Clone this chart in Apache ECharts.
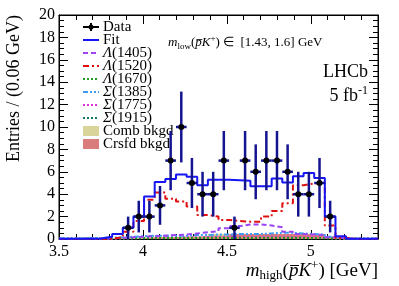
<!DOCTYPE html>
<html><head><meta charset="utf-8">
<script src="https://cdn.jsdelivr.net/npm/echarts@6/dist/echarts.min.js"></script>
<style>html,body{margin:0;padding:0;background:#fff}#c{width:399px;height:286px}</style>
</head><body><div id="c"></div>
<script>
// ---- binning ----
const X_MIN = 3.5, X_MAX = 5.4, N_BINS = 30;
const xTicks = [3.5, 4, 4.5, 5];
const yTicks = [0, 2, 4, 6, 8, 10, 12, 14, 16, 18, 20];
// ---- data (bins 6..25) ----
const dataFirstBin = 6;
const dataCounts = [1, 2, 2, 3, 7, 10, 5, 4, 4, 7, 1, 7, 6, 7, 7, 6, 4, 4, 5, 2];
// ---- model components, per bin (30 bins) ----
const fitVals   = [0.03,0.03,0.03,0.05,0.2,0.45,1.0,2.0,3.8,5.1,5.35,5.75,5.55,4.8,5.3,5.3,5.25,5.2,4.7,4.7,5.4,5.05,5.6,5.9,5.45,2.0,0.25,0.02,0.02,0.02];
const L1520     = [0,0,0,0,0.05,0.15,0.65,1.6,3.5,4.15,3.6,3.35,2.9,2.15,2.0,1.7,1.6,1.55,1.55,2.0,2.5,3.2,4.8,4.95,5.05,1.2,0.1,0,0,0];
const L1405     = [0.02,0.02,0.03,0.03,0.05,0.1,0.15,0.2,0.25,0.3,0.35,0.4,0.5,0.6,0.7,0.95,1.15,1.3,1.3,1.2,1.05,0.65,0.45,0.4,0.35,0.15,0.05,0.02,0.02,0.02];
const L1670     = [0.03,0.03,0.04,0.05,0.06,0.07,0.08,0.1,0.1,0.1,0.1,0.1,0.1,0.12,0.12,0.12,0.12,0.12,0.12,0.12,0.12,0.12,0.1,0.1,0.1,0.05,0.03,0.02,0.02,0.02];
const S1385     = [0.05,0.05,0.08,0.1,0.12,0.15,0.2,0.25,0.3,0.3,0.3,0.3,0.35,0.35,0.4,0.4,0.45,0.45,0.45,0.5,0.55,0.55,0.5,0.45,0.4,0.2,0.05,0.02,0.02,0.02];
const S1775     = [0.02,0.02,0.03,0.04,0.05,0.06,0.08,0.1,0.12,0.12,0.14,0.15,0.16,0.18,0.2,0.2,0.2,0.2,0.2,0.2,0.2,0.18,0.16,0.15,0.12,0.06,0.03,0.02,0.02,0.02];
const S1915     = [0.02,0.02,0.03,0.03,0.04,0.05,0.05,0.06,0.06,0.07,0.07,0.07,0.08,0.08,0.08,0.08,0.08,0.08,0.08,0.08,0.08,0.08,0.07,0.07,0.06,0.04,0.02,0.02,0.02,0.02];
const combBkg   = [0.1,0.1,0.1,0.1,0.1,0.1,0.15,0.15,0.15,0.15,0.15,0.25,0.25,0.25,0.45,0.45,0.45,0.45,0.4,0.4,0.3,0.3,0.3,0.3,0.3,0.1,0.1,0.1,0.1,0.1];
const crsfdBkg  = [0.05,0.05,0.05,0.05,0.05,0.05,0.05,0.05,0.15,0.15,0.15,0.15,0.15,0.25,0.25,0.25,0.45,0.45,0.45,0.45,0.45,0.45,0.45,0.45,0.45,0.2,0.05,0.05,0.05,0.05];

const W = (X_MAX - X_MIN) / N_BINS;
function stepPts(vals) {
  const pts = [];
  vals.forEach((v, i) => { pts.push([X_MIN + i * W, v]); pts.push([X_MIN + (i + 1) * W, v]); });
  return pts;
}
const SERIF = 'Liberation Serif';
function stepLine(name, vals, color, type, width, z) {
  return { name, type: 'line', data: stepPts(vals), symbol: 'none', silent: true, z: z,
    lineStyle: { color, type, width }, animation: false };
}
function stepFill(name, vals, color, z) {
  return { name, type: 'line', data: stepPts(vals), symbol: 'none', silent: true, z: z,
    lineStyle: { width: 0 }, areaStyle: { color, opacity: 1 }, animation: false };
}
const C = {
  fit: '#1515f5', l1405: '#9b44f5', l1520: '#e01010', l1670: '#1f9f1f',
  s1385: '#3d9cf0', s1775: '#e030e0', s1915: '#107a70', comb: '#d8d49a', crsfd: '#da7c7c', err: '#141490'
};
const D_DASH = [5, 3], D_DASHDOT = [6, 3, 2, 3], D_DOT = [2, 2], D_DDD = [5, 2, 2, 2, 2, 2];

const chart = echarts.init(document.getElementById('c'), null, { renderer: 'canvas' });

const SUBR = 0.68;
function rich(fs) {
  const s = Math.round(fs * SUBR);
  return {
    n: { fontFamily: SERIF, fontSize: fs, lineHeight: fs + 4, verticalAlign: 'middle', color: '#000' },
    i: { fontFamily: SERIF, fontSize: fs, fontStyle: 'italic', lineHeight: fs + 4, verticalAlign: 'middle', color: '#000' },
    sub: { fontFamily: SERIF, fontSize: s, lineHeight: s, verticalAlign: 'bottom', color: '#000' },
    sup: { fontFamily: SERIF, fontSize: s, lineHeight: s, verticalAlign: 'top', color: '#000' }
  };
}
// text measuring for the p-bar overline
const mctx = document.createElement('canvas').getContext('2d');
function tw(txt, fs, italic) { mctx.font = (italic ? 'italic ' : '') + fs + 'px "' + SERIF + '"'; return mctx.measureText(txt).width; }
// segments: [text, kind]; returns graphic items (text + overline over token flagged 'bar')
function mathLabel(segs, fs, x, y, align) {
  const s = Math.round(fs * SUBR);
  let str = '', total = 0, barX0 = 0, barX1 = 0;
  segs.forEach(([t, k, bar]) => {
    const w = (k === 'sub' || k === 'sup') ? tw(t, s, false) : tw(t, fs, k === 'i');
    if (bar) { barX0 = total; barX1 = total + w; }
    total += w;
    str += '{' + k + '|' + t + '}';
  });
  const left = align === 'right' ? x - total : x;
  const out = [{ type: 'text', x: x, y: y, style: { text: str, rich: rich(fs), verticalAlign: 'middle', align: align } }];
  if (barX1 > barX0) {
    const yy = Math.round(y - 0.32 * fs) + 0.5;
    out.push({ type: 'line', shape: { x1: left + barX0 + 1.2, y1: yy, x2: left + barX1 + 0.6, y2: yy }, style: { stroke: '#000', lineWidth: Math.max(0.8, fs / 18) } });
  }
  return out;
}

const legendItems = [
  { kind: 'data', t: '{n|Data}' },
  { kind: 'line', t: '{n|Fit}', c: C.fit, d: 'solid', w: 2 },
  { kind: 'line', t: '{i|Λ}{n|(1405)}', c: C.l1405, d: D_DASH, w: 2 },
  { kind: 'line', t: '{i|Λ}{n|(1520)}', c: C.l1520, d: D_DASHDOT, w: 2 },
  { kind: 'line', t: '{i|Λ}{n|(1670)}', c: C.l1670, d: D_DOT, w: 2 },
  { kind: 'line', t: '{i|Σ}{n|(1385)}', c: C.s1385, d: D_DDD, w: 2 },
  { kind: 'line', t: '{i|Σ}{n|(1775)}', c: C.s1775, d: D_DOT, w: 2 },
  { kind: 'line', t: '{i|Σ}{n|(1915)}', c: C.s1915, d: D_DOT, w: 2 },
  { kind: 'box', t: '{n|Comb bkgd}', c: C.comb },
  { kind: 'box', t: '{n|Crsfd bkgd}', c: C.crsfd }
];
const graphics = [];
legendItems.forEach((it, k) => {
  const y = 27 + k * 13;
  if (it.kind === 'data') {
    graphics.push({ type: 'line', shape: { x1: 83, y1: y, x2: 99, y2: y }, style: { stroke: '#000', lineWidth: 2 } });
    graphics.push({ type: 'line', shape: { x1: 91, y1: y - 4, x2: 91, y2: y + 4 }, style: { stroke: '#000', lineWidth: 2 } });
    graphics.push({ type: 'circle', shape: { cx: 91, cy: y, r: 2.5 }, style: { fill: '#000' } });
  } else if (it.kind === 'line') {
    graphics.push({ type: 'line', shape: { x1: 83, y1: y, x2: 99, y2: y }, style: { stroke: it.c, lineWidth: it.w, lineDash: it.d === 'solid' ? null : it.d } });
  } else {
    graphics.push({ type: 'rect', shape: { x: 83, y: y - 5, width: 16, height: 10 }, style: { fill: it.c } });
  }
  graphics.push({ type: 'text', x: 103, y: y, style: { text: it.t, rich: rich(15), verticalAlign: 'middle', align: 'left' } });
});
// annotation
mathLabel([['m', 'i'], ['low', 'sub'], ['(', 'n'], ['p', 'i', true], ['K', 'i'], ['+', 'sup'], [') ∈  [1.43, 1.6] GeV', 'n']], 13, 168, 43, 'left').forEach(g => graphics.push(g));
graphics.push({ type: 'text', x: 368, y: 72, style: { text: '{n|LHCb}', rich: rich(18), verticalAlign: 'middle', align: 'right' } });
graphics.push({ type: 'text', x: 368, y: 96, style: { text: '{n|5 fb}{sup|-1}', rich: rich(18), verticalAlign: 'middle', align: 'right' } });
// axis titles
mathLabel([['m', 'i'], ['high', 'sub'], ['(', 'n'], ['p', 'i', true], ['K', 'i'], ['+', 'sup'], [') [GeV]', 'n']], 19, 378, 271, 'right').forEach(g => graphics.push(g));
graphics.push({ type: 'text', x: 14, y: 15, rotation: Math.PI / 2, style: {
  text: 'Entries / (0.06 GeV)', font: '18px "Liberation Serif"', fill: '#000', align: 'right', verticalAlign: 'middle' } });

function xAxisCfg(pos) {
  return { type: 'value', min: X_MIN, max: X_MAX, interval: 0.5, position: pos,
    axisLine: { show: true, onZero: false, lineStyle: { color: '#000', width: 1 } },
    axisTick: { show: true, inside: true, length: 9, lineStyle: { color: '#000' } },
    minorTick: { show: true, splitNumber: 5, length: 5, lineStyle: { color: '#000' } },
    splitLine: { show: false },
    axisLabel: { show: pos === 'bottom', showMaxLabel: false, fontFamily: SERIF, fontSize: 16, color: '#000', margin: 5,
      formatter: v => (xTicks.indexOf(+v.toFixed(2)) >= 0 ? String(+v.toFixed(2)) : '') } };
}
function yAxisCfg(pos) {
  return { type: 'value', min: 0, max: 20, interval: 2, position: pos,
    axisLine: { show: true, onZero: false, lineStyle: { color: '#000', width: 1 } },
    axisTick: { show: true, inside: true, length: 9, lineStyle: { color: '#000' } },
    minorTick: { show: true, splitNumber: 4, length: 5, lineStyle: { color: '#000' } },
    splitLine: { show: false },
    axisLabel: { show: pos === 'left', fontFamily: SERIF, fontSize: 16, color: '#000', margin: 4,
      formatter: v => (yTicks.indexOf(v) >= 0 ? String(v) : '') } };
}

const dataPts = dataCounts.map((n, k) => [X_MIN + (dataFirstBin + k + 0.5) * W, n]);

const option = {
  animation: false,
  grid: { left: 59, right: 21, top: 15, bottom: 47, show: true, borderColor: '#000', borderWidth: 1, backgroundColor: 'transparent' },
  xAxis: [xAxisCfg('bottom'), xAxisCfg('top')],
  yAxis: [yAxisCfg('left'), yAxisCfg('right')],
  series: [
    stepFill('Comb bkgd', combBkg, C.comb, 1),
    stepFill('Crsfd bkgd', crsfdBkg, C.crsfd, 2),
    stepLine('Σ(1915)', S1915, C.s1915, D_DOT, 2, 3),
    stepLine('Σ(1775)', S1775, C.s1775, D_DOT, 2, 3),
    stepLine('Λ(1670)', L1670, C.l1670, D_DOT, 2, 3),
    stepLine('Σ(1385)', S1385, C.s1385, D_DDD, 2, 4),
    stepLine('Λ(1405)', L1405, C.l1405, D_DASH, 2, 5),
    stepLine('Λ(1520)', L1520, C.l1520, D_DASHDOT, 2, 6),
    stepLine('Fit', fitVals, C.fit, 'solid', 2, 7),
    { name: 'Data', type: 'custom', z: 10, data: dataPts, animation: false,
      renderItem: function (params, api) {
        const x = api.value(0), n = api.value(1), e = Math.sqrt(n);
        const p = api.coord([x, n]), l = api.coord([x - W / 2, n]), r = api.coord([x + W / 2, n]);
        const t = api.coord([x, n + e]), b = api.coord([x, n - e]);
        return { type: 'group', children: [
          { type: 'line', shape: { x1: l[0], y1: l[1], x2: r[0], y2: r[1] }, style: { stroke: C.err, lineWidth: 2.5 } },
          { type: 'line', shape: { x1: t[0], y1: t[1], x2: b[0], y2: b[1] }, style: { stroke: C.err, lineWidth: 2.5 } },
          { type: 'circle', shape: { cx: p[0], cy: p[1], r: 3 }, style: { fill: '#000' } }
        ] };
      } }
  ],
  graphic: graphics
};
chart.setOption(option);
</script></body></html>
